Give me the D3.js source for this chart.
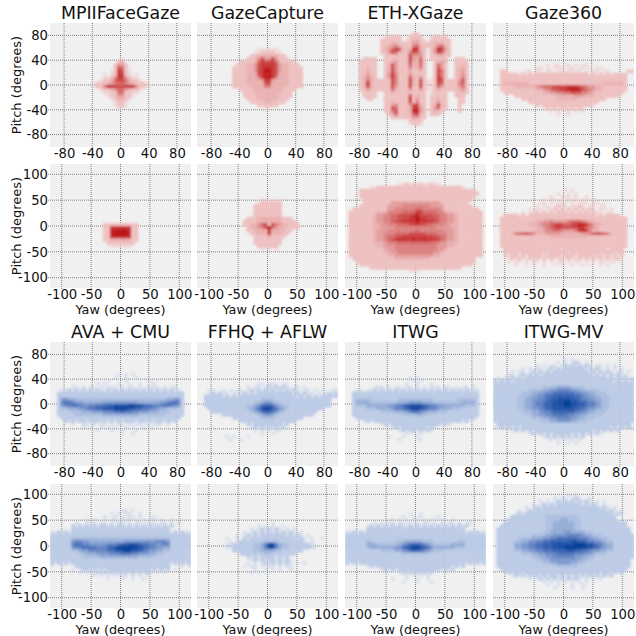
<!DOCTYPE html>
<html>
<head>
<meta charset="utf-8">
<script src="https://cdnjs.cloudflare.com/ajax/libs/d3/7.8.5/d3.min.js"></script>
<style>
  html, body { margin: 0; padding: 0; background: #fff; }
  text { font-family: "DejaVu Sans", sans-serif; fill: #111; }
</style>
</head>
<body>
<div id="chart"></div>
<script>
// density, one string per row of bins, top row first.
// ' ' empty, '.' stray samples, 1-9 light to dark
const titles = ["MPIIFaceGaze", "GazeCapture", "ETH-XGaze", "Gaze360", "AVA + CMU", "FFHQ + AFLW", "ITWG", "ITWG-MV"];
const wideTicks = [-80, -40, 0, 40, 80];
const tallTicks = [-100, -50, 0, 50, 100];

const mpiiFront = [
"                    .",
"                   12",
"                  1331",
"                  1651",
"                 .1761.",
"               . .1771. .",
"               ..137731..",
"              .1125665211.",
"            .11123455432111.",
"            .11488766788411.",
"              .1123553211.",
"               ..115511..",
"                .113311.",
"                 .1221.",
"                  .11.",
"                  .11.",
"                   .."];
const gazeCaptureFront = [
"                 ......",
"                ..1111..",
"               1122222211",
"              111363363111",
"            1111257667521111",
"           111223677776322111",
"          11112236788763221111",
"          11112236799763221111",
"          11112226788762221111",
"          11112224788742221111",
"          11112222377322221111",
"          11112222266222221111",
"          11111222244222211111",
"            1111222222221111",
"             11122222222111",
"             11112222221111",
"              111222222111",
"               1111221111",
"                 111111",
"                   .."];
const ethFront = [
"                   11",
"           .1111  1111  .1111",
"          111111 .1221. 111111",
"          11122111133111122211",
"          11234211145211124521",
"          1235762128721 138731",
"          1136521146531 136521",
"           111211163331 112211",
"     1111  111111163251 11111  111",
"    11111  112311162251  1232  1111",
"    11111  126311152251  1531  1121",
"    11211  126311141241  1631  1221",
"    11211  126311121121  1751  1231",
"    11311  137411131111  1641  1231",
"    12321  137411152131  1751  1241",
"    1252111116411162161..1761111361",
"    1272111116411162161..1651111451",
"    1262111116311161161..1531111351",
"    1131111115211131131..1211111231",
"     1111  112111111111 .1111  1121",
"     1111  111111161211 11111  121",
"      11   111111171311 11211   11",
"           112111161411 11311   11",
"           113411136621 12621   1",
"           116511127731 13511   1",
"           114611128831 1211    1",
"            12511125621 111",
"             1111113311",
"                  1111",
"                  .11."];
const gaze360Front = [
"               . .. .. . ..",
"            .. . ... .. .. . ..",
"  11     .. .. .. ....... . .. ..     11",
"  11111.1.1.111111111111111.1.1.1.1111",
"  111111111111111111111111111111111111",
"  111111111111111111111111111111111111",
"  122222221111111111111111111112222221",
"  111122222234555666677765433221111111",
"  111111111122345667789986543221111111",
"   1111111111122334455666443211111111",
"      111111111111222223332221111111",
"        111111111122222211111111",
"          11111111111111111111",
"            1.11111111111111.",
"              .1.1.11.1.1.",
"                . . .. . .",
"                  .  ."];
const mpiiSide = [
"               1111111111",
"               1177777711",
"               1188999811",
"               1189999811",
"               1188888811",
"               1122222211",
"                11111111",
"                 ......"];
const gazeCaptureSide = [
"                  .. . .",
"                 .111111",
"                11111111",
"                11111111",
"                11111111",
"                11111111",
"              1112222222111",
"             111122222221111",
"             1122356164322111",
"              122346953221111",
"              1122227222211",
"               11222722211",
"                111121111",
"                11111111",
"                11111111",
"                 111111",
"                  . . ."];
const ethSide = [
"               ..1.1.1..1..",
"       ..111111111111111111111111.",
"    111111111111111111111111111111111",
"    1111111111111111111111111111111111",
"    111111111111111111111111111111111",
"     1111111111111111111111111111111",
"     111111113333333333333311111111",
"    11111111333344444444333311111111",
"  111111111133444444554444431111111111",
" 11111111222444455557755554422211111111",
" 11111112334455666678666655443321111111",
" 11111112334455666779776665443321111111",
" 11111112334456677779777765443321111111",
" 11111112233444555667665544433221111111",
" 11111112233334444444444443333221111111",
" 11111112333444444445444444433321111111",
" 11111112334445555666665554443321111111",
" 11111112334556677777777766543321111111",
" 11111112334567877787787776543321111111",
" 11111112223444555555555544332221111111",
" 11111111223334444444444443332211111111",
" 11111111112334444444444443321111111111",
" 11111111112233444444444433211111111111",
" 11111111111223333333333322111111111111",
"  11111111111122222222221111111111111",
"   1111111111111111111111111111111111",
"    11111111111111111111111111111111",
"       11111111111111111111111111",
"                  ..."];
const gaze360Side = [
"                    . .",
"                  .  . .",
"                .  ... .  .",
"              . .. . ... .. .",
"             .. . ... . ... .. .",
"            . .. .1.. ..1. .. ..",
"          . .. ..1.1.1.1.1.1. .. .",
"        . ..1.1.1.111.1.1.1.1.. ..",
"   1111.1.1111111111111111111.1.1111",
"  111111111111111111111111111111111111",
"  111111111122334333345554322111111111",
"  111111112223445676556788753221111111",
"  111111111122345676666677543211111111",
"  111111111122344554333478742211111111",
"  111245565422233332222223345665421111",
"  111111111111112222222222211111111111",
"  111111111111111111111111111111111111",
"  111111111111111111111111111111111111",
"  111111111111111111111111111111111111",
"   1111111111111111.111111111111.1111",
"   .111.1111111.11111.11111111.111.11",
"   1.11.1.1111.1111.111.1111.11.1.1.1",
"    .1.1..1.1.1.1..1.1..1.1.1.1.1..1",
"    . .. . .. . . .. . .. . . .. .. .",
"      .  . .  .  . .  .  . .  . ."];
const avaFront = [
"                   . . .",
"                  .  .  .",
"                .    .      .",
"             . .   .  .  .   .",
"      .. . .. . ... . .. . .... . ..",
"   ..1.1.1.1.1..1.1.1.1.1.1.1.1.1.1..",
"  111111111111111111111111111111111111",
"  111111111111111111111111111111111111",
"  144332222222222222222222222222233441",
"  156654433333344444444443333334456651",
"  145566554556667788889988766555665541",
"  122333445667788899998877665543322211",
"  111122233344455566766554443332221111",
"  111112222222233333333332222222211111",
"   1111111111111111111111111111111111",
"    1.1.11.111.1.1.1.111.11.1.11.1.1",
"      .  .. . .. . .. . .. . ... .",
"         . .  . . .  . .  . .",
"             .   .  .   .",
"                    .  ."];
const ffhqFront = [
"                 .. ... ..",
"              . .. .1.1.1. .. .",
"   ..  . . .. .1.1.1.1.1.1.1. .. . .  ..",
"   .1.1.. ...1.1.1111111111.1.1.. . .1.1",
"  11111.1.1.1111111111111111.1.1.1.11111",
"  111111111111111122221111111111111111",
"  111111111111112234432211111111111111",
"  111111111111223467764322111111111111",
"   111111111112346899764321111111111",
"    111111111112346776432111111111",
"       11111111112344321111111111",
"          11111111222211111111",
"            1111111111111111",
"              1.11111111.1",
"               .1.1.1.1.1",
"                . . . ..",
"                  .  .",
"        . .   .",
"         .  ."];
const itwgFront = [
"                  . .",
"                   . .",
"                 .  .   .",
"        ... . .. .. . . ... .. . .. .",
"   .. ..1.1.1.1.1.1.1.1.1.1.1.1.1.1...",
"  111111111111111111111111111111111111",
"  111111111111111111111111111111111111",
"  122222111111122222222221111111222221",
"  133332222222233344443332222222233331",
"  122233333344556788887655443333332221",
"  111122233334556789987655433322211111",
"  111111112222333456654333222111111111",
"  111111111111112222332211111111111111",
"   1111111111111111111111111111111111",
"     .1.1111111111111111111111111.1",
"          .1.11111111111111.1.",
"             .1.1111111.1.",
"               .1.11.1.1.",
"                 . . .",
"            .   .   .",
"               .     ."];
const itwgMvFront = [
"                    . .",
"                  . . .1. .",
"            . . .. .1.1.1.1. .. . .",
"        . . .. .1.1.111111.1.1. . . .",
"     . .. .1.1.1.1111111111.1.1.1. .. .",
"    .. .1.1.1.11111111111111.1.1.1.1..",
" . ..1.1.11111111111111111111111.1.1.1..",
"1.1.1.1111111111111111111111111111.1.1.1",
"1111111111111111111111111111111111111111",
"1111111111111122223333222211111111111111",
"1111111111222233445555443322221111111111",
"1111111122233445566666655443322211111111",
"1111111222334456677777766544332221111111",
"1111111223344556778888776554433221111111",
"1111111223345567788899887765543221111111",
"1111111223345567788899887765543221111111",
"1111111223344567788888877654433221111111",
"1111111122233455677777765543322211111111",
"1111111112233445566665544332222111111111",
"1111111111122233445555443322211111111111",
"1111111111111222334444332221111111111111",
" 11111111111111111111111111111111111111",
"..1.1.1.1111111111111111111111111.1.1.1.",
"     .1.1.1.1111111111111111.1.1.1.1",
"          .1.1.1.11111.1.1.1.1.",
"              .1.1.1.1.1.1",
"                . . . . .",
"                  .  . ."];
const avaSide = [
"                    .. .",
"                 . . ..  .",
"               .  . . .. .   .",
"          . .  . .. ... . . .. .  .",
"       .  . . .. . .. . .. . . .. . .",
"      1.1.1.1.11.1.11.1.1.1.1.1.1.1",
"      1111111111111111111111111111",
"..1.1.1111111111111111111111111111.1.1..",
"1111111111111111111111111111111111111111",
"1111112222222222222222222222222222111111",
"1111114554433333333334444444445554111111",
"1111115665544444555677888766554455111111",
"1111114556666555678999998876554433111111",
"1111112234455555667889988765443322111111",
"1111111122333444455566655444332211111111",
"1111111112222233333333333222221111111111",
"1111111111111111111111111111111111111111",
"1.1.1.1111111111111111111111111111.1.1.1",
".  .   111111111111111111111111111   . .",
"      . .11.1.1.111111111111.1.1.1 .",
"        . . .1.1.1.1.1.1.1.1. . .",
"            . . . . .. . . .",
"                .   .  .  ."];
const ffhqSide = [
"                     .",
"                 . . .  .",
"               . .1.1.1. . .",
"             . .1.1.1.1.1.1. .",
"           . .1.1.1111111.1.1. .",
"        .  . 1.1111111111111.1. .  .",
"         . .111111122221111111. .",
"        ..1111112235995322111111..",
"        ..1111112235885322111111..",
"          11111122333322111111",
"            1111111221111111",
"              1.1.1111.1.1",
"               .1.1.11.1.1.",
"              . . .1.1.1.1. . .",
"             . .. . .. . ..",
"                .  . . .  .",
"               . ."];
const itwgSide = [
"                  .  .",
"                .  . .    .",
"             . . . .. . .. .  .",
"        . . .. .. . . .. . . .. . ..",
"      .1.1.1.1.1..1.1.1.1.1.1.1.1.1",
"      1111111111111111111111111111",
"..1.1.1111111111111111111111111111.1.1..",
"1111111111111111111111111111111111111111",
"1111111111111111111111111111111111111111",
"1111112211111122233333222111111122111111",
"1111113332222223456776543222223333111111",
"1111112333333344678998764333333222111111",
"1111111111222233456776543222111111111111",
"1111111111111111222222221111111111111111",
"1111111111111111111111111111111111111111",
"1111111111111111111111111111111111111111",
"1.1.111111111111111111111111111111.1.1.1",
"      .1.111111111111111111111.1.1",
"          .1.1.111111111111.1.1",
"               .1.1.1.1.1",
"                 . . . .",
"             .   .  .  .",
"                .   .   ."];
const itwgMvSide = [
"                     . .",
"                 . .. .1.  .",
"             . . .1.1.1.1.1. . .",
"           . .1.1.1111111.1.1. .",
"         . .1.1111111111111111.1. .",
"       . .1.11111111111111111111.1. .",
"      .1.1111111111111111111111111.1.",
"     111111111122222222211111111111",
"    1111111111122223322221111111111",
"   11111111111122333333221111111111111",
"  111111111111122333333221111111111111",
" 11111111111111223333332211111111111111",
" 11111111111112233334433332211111111111",
" 111111111122223344445555433222111111111",
" 111111222233344556666665554332221111111",
" 111112233445566777777887765544322111111",
" 111113344556677788888899988765433111111",
" 111113344556677788899999988765433111111",
" 111112233445566677778877665443322111111",
" 111111122233445556666655544322211111111",
" 111111111122334455555544332211111111111",
" 11111111111223344444444332211111111111",
" 11111111111112233444433221111111111111",
" 11111111111111111222222111111111111111",
"  111111111111111111111111111111111111",
"   .1.11.111111111111111111111.11.1.1",
"     .1.1.1.1.1.11.1.1.1.1.1.1.1.1",
"          . .1.1.1.1.1.1. . . .",
"              . . . . . . .",
"               .  .   .  .",
"                 .    .  ."];

// row of the grid each panel's first string belongs to
const startRows = [11, 8, 3, 13,  19, 11, 6, 8,  10, 13, 11, 5,  8, 12, 9, 3];
const panelGrids = [mpiiFront, gazeCaptureFront, ethFront, gaze360Front,
    mpiiSide, gazeCaptureSide, ethSide, gaze360Side,
    avaFront, ffhqFront, itwgFront, itwgMvFront,
    avaSide, ffhqSide, itwgSide, itwgMvSide];

const redRamp = ["#efc0c0", "#eab0b0", "#e39a9a", "#dc8080", "#d66868", "#cf4c4c", "#c93434", "#c21c1c", "#b90f0f"];
const blueRamp = ["#bccbe6", "#acbfe0", "#94acd8", "#7b98ce", "#6284c4", "#4a70ba", "#3260b0", "#1a50a6", "#063d98"];

const width = 636;
const height = 636;
const panelW = 141;
const panelH = 124;
const colX = [50, 197, 345, 493];
const rowY = [23, 164, 342, 484];

const svg = d3.select("#chart")
    .append("svg")
    .attr("width", width)
    .attr("height", height)
    .attr("viewBox", [0, 0, width, height])
    .style("display", "block");

const defs = svg.append("defs");
defs.append("filter")
    .attr("id", "soft")
    .attr("x", "-5%").attr("y", "-5%").attr("width", "110%").attr("height", "110%")
    .append("feGaussianBlur")
    .attr("stdDeviation", 0.9);
defs.append("clipPath")
    .attr("id", "panelClip")
    .append("rect")
    .attr("width", panelW)
    .attr("height", panelH);

panelGrids.forEach((grid, i) => {
    const col = i % 4;
    const row = Math.floor(i / 4);
    const wide = row % 2 === 0;     // 1st and 3rd row run to +-100, the others to +-120
    const lim = wide ? 100 : 120;
    const step = wide ? 5 : 6;
    const ticks = wide ? wideTicks : tallTicks;
    const ramp = row < 2 ? redRamp : blueRamp;

    const x = d3.scaleLinear().domain([-lim, lim]).range([0, panelW]);
    const y = d3.scaleLinear().domain([-lim, lim]).range([panelH, 0]);

    const g = svg.append("g")
        .attr("transform", `translate(${colX[col]}, ${rowY[row]})`);

    g.append("rect")
        .attr("width", panelW)
        .attr("height", panelH)
        .attr("fill", "#f0f0f0");

    //Axes
    const xAxis = g.append("g")
        .attr("transform", `translate(0, ${panelH})`)
        .call(d3.axisBottom(x).tickValues(ticks).tickSize(0).tickPadding(2).tickFormat(d => String(d)));
    const yAxis = g.append("g")
        .call(d3.axisLeft(y).tickValues(ticks).tickSize(0).tickPadding(2).tickFormat(d => String(d)));
    xAxis.select(".domain").remove();
    yAxis.select(".domain").remove();
    xAxis.selectAll("text").style("font-size", "13.2px");
    yAxis.selectAll("text").style("font-size", "13.2px");
    if (col > 0) yAxis.selectAll("text").remove();

    //Dotted grid
    const gridG = g.append("g")
        .attr("stroke", "#808080")
        .attr("stroke-width", 1)
        .attr("stroke-dasharray", "1,1");
    ticks.forEach(t => {
        gridG.append("line").attr("x1", x(t)).attr("x2", x(t)).attr("y1", 0).attr("y2", panelH + 2);
        gridG.append("line").attr("x1", col === 0 ? -2 : 0).attr("x2", panelW).attr("y1", y(t)).attr("y2", y(t));
    });

    //Histogram bins
    const cells = [];
    grid.forEach((s, r) => {
        s.split("").forEach((ch, c) => {
            if (ch !== " ") cells.push({yaw: -lim + c * step, pitch: lim - (r + startRows[i]) * step, level: ch});
        });
    });
    g.append("g")
        .attr("clip-path", "url(#panelClip)")
        .append("g")
        .attr("filter", "url(#soft)")
        .selectAll("rect")
        .data(cells)
        .join("rect")
        .attr("x", d => x(d.yaw))
        .attr("y", d => y(d.pitch))
        .attr("width", x(step) - x(0) + 0.3)
        .attr("height", y(0) - y(step) + 0.3)
        .attr("fill", d => d.level === "." ? ramp[0] : ramp[+d.level - 1])
        .attr("opacity", d => d.level === "." ? 0.45 : 1);

    if (row === 0 || row === 2) {
        g.append("text")
            .attr("x", panelW / 2)
            .attr("y", -4)
            .attr("text-anchor", "middle")
            .style("font-size", "17.4px")
            .text(titles[row === 0 ? col : col + 4]);
    }
    if (row === 1 || row === 3) {
        g.append("text")
            .attr("x", panelW / 2)
            .attr("y", panelH + 26)
            .attr("text-anchor", "middle")
            .style("font-size", "12.8px")
            .text("Yaw (degrees)");
    }
    if (col === 0) {
        g.append("text")
            .attr("transform", `translate(-29, ${panelH / 2}) rotate(-90)`)
            .attr("text-anchor", "middle")
            .style("font-size", "13px")
            .text("Pitch (degrees)");
    }
});
</script>
</body>
</html>
